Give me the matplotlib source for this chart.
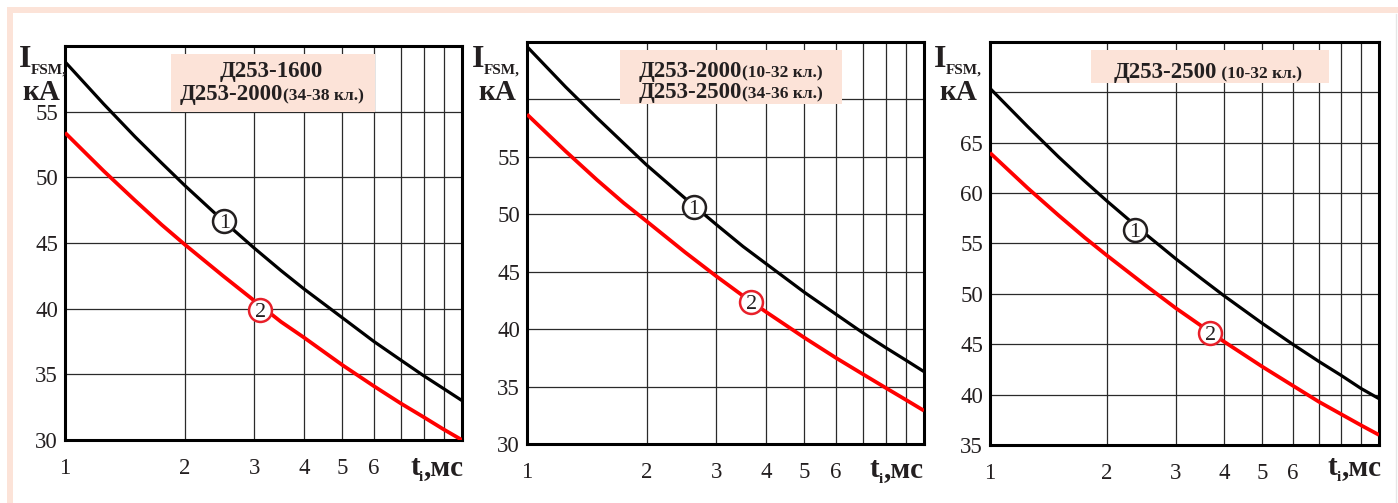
import matplotlib
matplotlib.use('Agg')
import matplotlib.pyplot as plt
from matplotlib.patches import Rectangle
from matplotlib.ticker import FixedLocator, NullLocator

plt.rcParams['font.family'] = ['Liberation Serif', 'DejaVu Serif']

# ---------------- data ----------------
t_points = [1, 1.25, 1.5, 1.75, 2, 2.5, 3, 3.5, 4, 5, 6, 7, 8, 9, 10]

p1_curve1 = [58.8, 55.6, 53.1, 51.1, 49.4, 46.7, 44.6, 42.9, 41.5, 39.3, 37.5, 36.1, 34.9, 33.9, 33.0]
p1_curve2 = [53.4, 50.5, 48.25, 46.4, 44.9, 42.5, 40.6, 39.0, 37.8, 35.7, 34.1, 32.8, 31.75, 30.8, 30.0]

p2_curve1 = [64.6, 61.1, 58.4, 56.2, 54.3, 51.4, 49.1, 47.2, 45.7, 43.2, 41.3, 39.7, 38.4, 37.3, 36.3]
p2_curve2 = [58.7, 55.5, 53.0, 51.0, 49.4, 46.7, 44.6, 42.9, 41.5, 39.25, 37.5, 36.1, 34.9, 33.85, 32.9]

p3_curve1 = [70.4, 66.6, 63.6, 61.2, 59.2, 56.0, 53.5, 51.5, 49.8, 47.1, 45.0, 43.3, 41.9, 40.6, 39.6]
p3_curve2 = [64.0, 60.5, 57.8, 55.6, 53.8, 50.9, 48.6, 46.8, 45.25, 42.8, 40.9, 39.3, 38.05, 36.95, 36.0]

# circled curve numbers (t, I)
p1_marks = [(2.52, 46.7), (3.10, 39.9)]
p2_marks = [(2.63, 50.6), (3.67, 42.35)]
p3_marks = [(2.36, 56.3), (3.68, 46.1)]

x_grid = [1, 2, 3, 4, 5, 6, 7, 8, 9]
x_labels = ['1', '2', '3', '4', '5', '6', '', '', '']

p1_yticks = [30, 35, 40, 45, 50, 55, 60]
p1_ylabels = ['30', '35', '40', '45', '50', '55', '']
p2_yticks = [30, 35, 40, 45, 50, 55, 60, 65]
p2_ylabels = ['30', '35', '40', '45', '50', '55', '', '']
p3_yticks = [35, 40, 45, 50, 55, 60, 65, 70, 75]
p3_ylabels = ['35', '40', '45', '50', '55', '60', '65', '', '']

titles = [
    [("Д253-1600", ""), ("Д253-2000", "(34-38 кл.)")],
    [("Д253-2000", "(10-32 кл.)"), ("Д253-2500", "(34-36 кл.)")],
    [("Д253-2500", " (10-32 кл.)")],
]

# ---------------- figure ----------------
W, H = 1398, 503
fig = plt.figure(figsize=(W / 100, H / 100), dpi=100)
fig.patch.set_facecolor('white')

PINK = '#fce3d8'
TXT = '#231f20'


def fx(x):
    return x / W


def fy(y):
    return 1 - y / H


def ftext(x, y, s, **kw):
    kw.setdefault('color', TXT)
    kw.setdefault('va', 'baseline')
    kw.setdefault('zorder', 10)
    fig.text(fx(x), fy(y), s, **kw)


def frect(x0, y0, x1, y1, color, z=5):
    fig.add_artist(Rectangle((fx(x0), fy(y1)), (x1 - x0) / W, (y1 - y0) / H,
                             transform=fig.transFigure, facecolor=color,
                             edgecolor='none', zorder=z))


# decorative pink frame
frect(7, 7, W, 13, PINK, z=1)
frect(7, 7, 13, H, PINK, z=1)
fig.add_artist(plt.Line2D([fx(1396), fx(1396)], [0, fy(14)], transform=fig.transFigure,
                          color='#e6e6e6', lw=1))

panels = [
    dict(box=(65, 46, 462, 440), ylim=(30, 60), yt=p1_yticks, yl=p1_ylabels,
         c1=p1_curve1, c2=p1_curve2, marks=p1_marks),
    dict(box=(527, 42, 924, 444), ylim=(30, 65), yt=p2_yticks, yl=p2_ylabels,
         c1=p2_curve1, c2=p2_curve2, marks=p2_marks),
    dict(box=(990, 42, 1379, 445), ylim=(35, 75), yt=p3_yticks, yl=p3_ylabels,
         c1=p3_curve1, c2=p3_curve2, marks=p3_marks),
]

for p in panels:
    l, t, r, b = p['box']
    ax = fig.add_axes([fx(l), fy(b), (r - l) / W, (b - t) / H])
    ax.set_xscale('log')
    ax.set_xlim(1, 10)
    ax.set_ylim(*p['ylim'])
    ax.xaxis.set_major_locator(FixedLocator(x_grid))
    ax.xaxis.set_minor_locator(NullLocator())
    ax.set_xticklabels(x_labels)
    ax.set_yticks(p['yt'])
    ax.set_yticklabels(p['yl'])
    ax.grid(True, color='#2a2a2a', lw=0.9)
    ax.set_axisbelow(True)
    ax.tick_params(length=0, labelsize=16.5, labelcolor=TXT)
    ax.tick_params(axis='x', pad=13)
    ax.tick_params(axis='y', pad=5)
    for s in ax.spines.values():
        s.set_linewidth(2.2)
        s.set_color('black')
    ax.plot(t_points, p['c1'], color='black', lw=2.3, zorder=3, solid_capstyle='butt')
    ax.plot(t_points, p['c2'], color='#ff0000', lw=2.7, zorder=3, solid_capstyle='butt')
    for (mx, my), num, col in zip(p['marks'], ['1', '2'], ['#231f20', '#e8202a']):
        ax.plot([mx], [my], 'o', ms=16.5, mfc='white', mec=col, mew=1.8, zorder=4)
        ax.text(mx, my, num, ha='center', va='center_baseline', fontsize=16,
                color=TXT, zorder=5)

# y-axis labels I_FSM, кА
ylab = [(19, 22), (472, 478), (934, 939)]
for xi, xk in ylab:
    ftext(xi, 67, "I", fontsize=23, fontweight='bold')
    ftext(xi + 12, 74, "FSM,", fontsize=11, fontweight='bold')
    ftext(xk, 100, "кА", fontsize=21, fontweight='bold')

# x-axis labels t_i,мс
tlab = [(410, 475), (870, 477), (1328, 475)]
for xt, yt in tlab:
    ftext(xt, yt, "t", fontsize=21, fontweight='bold')
    ftext(xt + 9, yt + 6, "i", fontsize=11, fontweight='bold')
    ftext(xt + 14, yt, ",мс", fontsize=21, fontweight='bold')

# title boxes
frect(171, 54, 375, 112, PINK)
ftext(271, 77, titles[0][0][0], fontsize=16.5, fontweight='bold', ha='center')
ftext(283, 100, titles[0][1][0], fontsize=16.5, fontweight='bold', ha='right')
ftext(283, 100, titles[0][1][1], fontsize=12.5, fontweight='bold', ha='left')

frect(620, 50, 842, 104, PINK)
ftext(742, 77, titles[1][0][0], fontsize=16.5, fontweight='bold', ha='right')
ftext(742, 77, titles[1][0][1], fontsize=12.5, fontweight='bold', ha='left')
ftext(742, 98, titles[1][1][0], fontsize=16.5, fontweight='bold', ha='right')
ftext(742, 98, titles[1][1][1], fontsize=12.5, fontweight='bold', ha='left')

frect(1091, 50, 1329, 83, PINK)
ftext(1217, 78, titles[2][0][0], fontsize=16.5, fontweight='bold', ha='right')
ftext(1217, 78, titles[2][0][1], fontsize=12.5, fontweight='bold', ha='left')

fig.savefig('out.png', dpi=100, facecolor='white')
